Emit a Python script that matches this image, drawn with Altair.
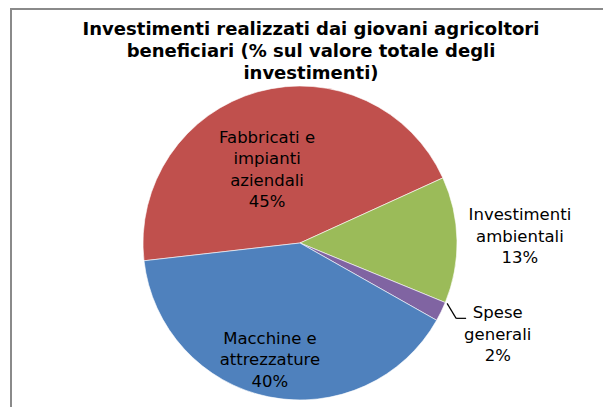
import math
import altair as alt
import pandas as pd

# ---- data ----
categories = ["Fabbricati e impianti aziendali", "Investimenti ambientali",
              "Spese generali", "Macchine e attrezzature"]
label_lines = [["Fabbricati e", "impianti", "aziendali"],
               ["Investimenti", "ambientali"],
               ["Spese", "generali"],
               ["Macchine e", "attrezzature"]]
values = [45, 13, 2, 40]
colors = ["#C0504D", "#9BBB59", "#8064A2", "#4F81BD"]
title_lines = ["Investimenti realizzati dai giovani agricoltori",
               "beneficiari (% sul valore totale degli",
               "investimenti)"]

# ---- layout / style ----
W, H = 595, 399
CX, CY = 292, 235
R = 157
LH = 21.5
OFFSET = math.radians(263.5)
label_radius = {categories[0]: 80, categories[1]: 220, categories[2]: 218, categories[3]: 121}
label_turn = {categories[0]: -8.8, categories[1]: -0.5, categories[2]: -1.0, categories[3]: 2.9}

df = pd.DataFrame({
    "idx": list(range(len(categories))),
    "cat": categories,
    "value": values,
    "label": ["\n".join(l + [f"{v}%"]) for l, v in zip(label_lines, values)],
    "nl": [len(l) + 1 for l in label_lines],
})

def expr_map(d, default=0):
    e = str(default)
    for k, v in d.items():
        e = f"datum.cat === '{k}' ? {v} : ({e})"
    return e

base = (
    alt.Chart(df)
    .transform_window(cum="sum(value)", sort=[alt.SortField("idx")], frame=[None, 0])
    .transform_joinaggregate(total="sum(value)")
    .transform_calculate(a1=f"{OFFSET} + 2*PI*datum.cum/datum.total")
    .transform_calculate(a0="datum.a1 - 2*PI*datum.value/datum.total")
    .transform_calculate(
        mid="(datum.a0 + datum.a1)/2",
        lr=expr_map(label_radius),
        lt=expr_map(label_turn),
    )
    .transform_calculate(lang="datum.mid + datum.lt*PI/180")
    .transform_calculate(
        lx=f"{CX} + datum.lr*sin(datum.lang)",
        ly=f"{CY} - datum.lr*cos(datum.lang) - (datum.nl - 1)/2*{LH}",
    )
)

pie = base.mark_arc(outerRadius=R, stroke="white", strokeWidth=0.6).encode(
    theta=alt.Theta("a0:Q", scale=None),
    theta2="a1:Q",
    color=alt.Color("cat:N", scale=alt.Scale(domain=categories, range=colors), legend=None),
    x=alt.value(CX),
    y=alt.value(CY),
)

labels = base.mark_text(
    font="DejaVu Sans", fontSize=16.5, color="black", align="center",
    baseline="middle", lineBreak="\n", lineHeight=LH,
).encode(
    text="label:N",
    x=alt.X("lx:Q", scale=None, axis=None),
    y=alt.Y("ly:Q", scale=None, axis=None),
)

leader_base = base.transform_filter(alt.datum.cat == categories[2]).transform_calculate(
    sx=f"{CX} + {R + 2}*sin(datum.a0)",
    sy=f"{CY} - {R + 2}*cos(datum.a0)",
).transform_calculate(ex="datum.sx + 9", ey="datum.sy + 15").transform_calculate(hx="datum.ex + 10")

leader1 = leader_base.mark_rule(color="black", strokeWidth=1.2).encode(
    x=alt.X("sx:Q", scale=None, axis=None), y=alt.Y("sy:Q", scale=None, axis=None),
    x2="ex:Q", y2="ey:Q",
)
leader2 = leader_base.mark_rule(color="black", strokeWidth=1.2).encode(
    x=alt.X("ex:Q", scale=None, axis=None), y=alt.Y("ey:Q", scale=None, axis=None),
    x2="hx:Q", y2="ey:Q",
)

one = pd.DataFrame({"k": [0]})
title = alt.Chart(one).mark_text(
    text=title_lines, font="DejaVu Sans", fontSize=18, fontWeight="bold",
    color="black", align="center", baseline="middle", lineHeight=22,
).encode(x=alt.value(303), y=alt.value(22))

border_top = alt.Chart(one).mark_rule(color="#8a8a8a", strokeWidth=2).encode(
    x=alt.value(2), x2=alt.value(W), y=alt.value(1), y2=alt.value(1))
border_left = alt.Chart(one).mark_rule(color="#8a8a8a", strokeWidth=2).encode(
    x=alt.value(3), x2=alt.value(3), y=alt.value(0), y2=alt.value(H))

chart = alt.layer(
    pie, labels, leader1, leader2, title, border_top, border_left
).properties(
    width=W, height=H, padding=0, autosize=alt.AutoSizeParams(type="none"),
    background="white",
).configure_view(stroke=None)

chart.save("out.html", embed_options={"renderer": "svg", "actions": False})
